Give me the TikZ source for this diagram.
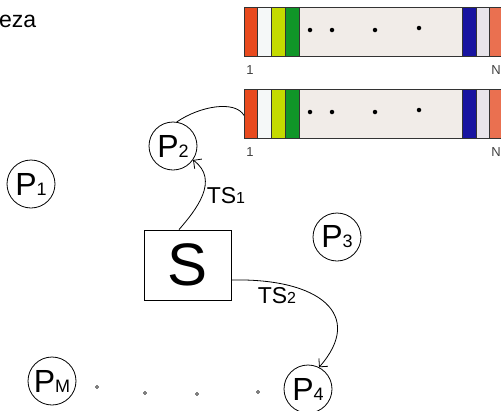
\documentclass[tikz,border=0pt]{standalone}
\usepackage{fontspec}
\setmainfont{Liberation Sans}
\usetikzlibrary{arrows.meta}
\definecolor{cRed}{RGB}{232,74,30}
\definecolor{cWhite}{RGB}{245,248,248}
\definecolor{cYel}{RGB}{196,218,0}
\definecolor{cGreen}{RGB}{16,150,40}
\definecolor{cBeige}{RGB}{241,236,232}
\definecolor{cBlue}{RGB}{24,20,160}
\definecolor{cGray}{RGB}{232,228,234}
\definecolor{cOrange}{RGB}{234,112,80}
\newcommand\sbsP[1]{{\fontsize{18}{18}\selectfont #1}}
\newcommand\sbsT[1]{{\fontsize{16}{16}\selectfont #1}}
\tikzset{
  pnode/.style={circle, draw, line width=0.8pt, minimum size=48pt, inner sep=0pt, font=\fontsize{32}{32}\selectfont},
  seg/.style={rectangle, draw=black!80, line width=0.8pt, minimum height=49pt, inner sep=0pt, anchor=north west},
  conn/.style={line width=0.8pt},
  arr/.style={conn, -{Straight Barb[angle=90:8.5pt]}},
  tslabel/.style={font=\fontsize{23}{23}\selectfont, inner sep=0pt},
  barnum/.style={font=\fontsize{13}{13}\selectfont, text=black!75, inner sep=0pt},
  bdot/.style={circle, fill=black, inner sep=0pt, minimum size=4.5pt},
  sdot/.style={circle, draw, line width=0.5pt, inner sep=0pt, minimum size=3pt}
}
\begin{document}
\begin{tikzpicture}[x=1pt,y=-1pt]
\useasboundingbox (0,0) rectangle (501,410);
\clip (0,0) rectangle (501,410);
% header fragment
\node[anchor=base west, inner sep=0pt, font=\fontsize{23}{23}\selectfont] (hdr) at (-1,27) {eza};
% bars
\foreach \row/\y in {1/7, 2/89}{
  \node[seg, fill=cRed, minimum width=13pt] (b\row s1) at (244,\y) {};
  \node[seg, fill=cWhite, minimum width=14pt] (b\row s2) at (257,\y) {};
  \node[seg, fill=cYel, minimum width=14pt] (b\row s3) at (271,\y) {};
  \node[seg, fill=cGreen, minimum width=14pt] (b\row s4) at (285,\y) {};
  \node[seg, fill=cBeige, minimum width=163pt] (b\row s5) at (299,\y) {};
  \node[seg, fill=cBlue, minimum width=14pt] (b\row s6) at (462,\y) {};
  \node[seg, fill=cGray, minimum width=13pt] (b\row s7) at (476,\y) {};
  \node[seg, fill=cOrange, minimum width=30pt] (b\row s8) at (489,\y) {};
  \node[bdot] (b\row d1) at (310,\y+23) {};
  \node[bdot] (b\row d2) at (332,\y+23) {};
  \node[bdot] (b\row d3) at (375,\y+23) {};
  \node[bdot] (b\row d4) at (419,\y+21) {};
  \node[barnum] (b\row one) at (250,\y+63) {1};
  \node[barnum, anchor=east] (b\row N) at (501,\y+63) {N};
}
% process nodes
\node[pnode] (P1) at (31,184) {P\sbsP{1}};
\node[pnode] (P2) at (173,146) {P\sbsP{2}};
\node[pnode] (P3) at (337,237) {P\sbsP{3}};
\node[pnode] (P4) at (308,389) {P\sbsP{4}};
\node[pnode] (PM) at (52,381) {P\sbsP{M}};
% server
\node[rectangle, draw, line width=0.8pt, minimum width=87pt, minimum height=70pt, inner sep=0pt, font=\fontsize{60}{60}\selectfont] (S) at (187.5,265) {S};
% bottom dots
\node[sdot] (d1) at (97,387) {};
\node[sdot] (d2) at (145,393) {};
\node[sdot] (d3) at (197,394) {};
\node[sdot] (d4) at (258,392) {};
% connectors
\draw[arr] ([xshift=-8.5pt]S.north) .. controls (196,210) and (220,180) .. (P2.-35);
\draw[arr] ([yshift=-15pt]S.east) .. controls (320,278) and (365,315) .. (P4.63);
\draw[conn] (P2.81) .. controls (200,106) and (235,100) .. ([yshift=-1.5pt]b2s1.west);
% labels
\node[tslabel] (ts1) at (226,196) {TS\sbsT{1}};
\node[tslabel] (ts2) at (277,296) {TS\sbsT{2}};
\end{tikzpicture}
\end{document}
